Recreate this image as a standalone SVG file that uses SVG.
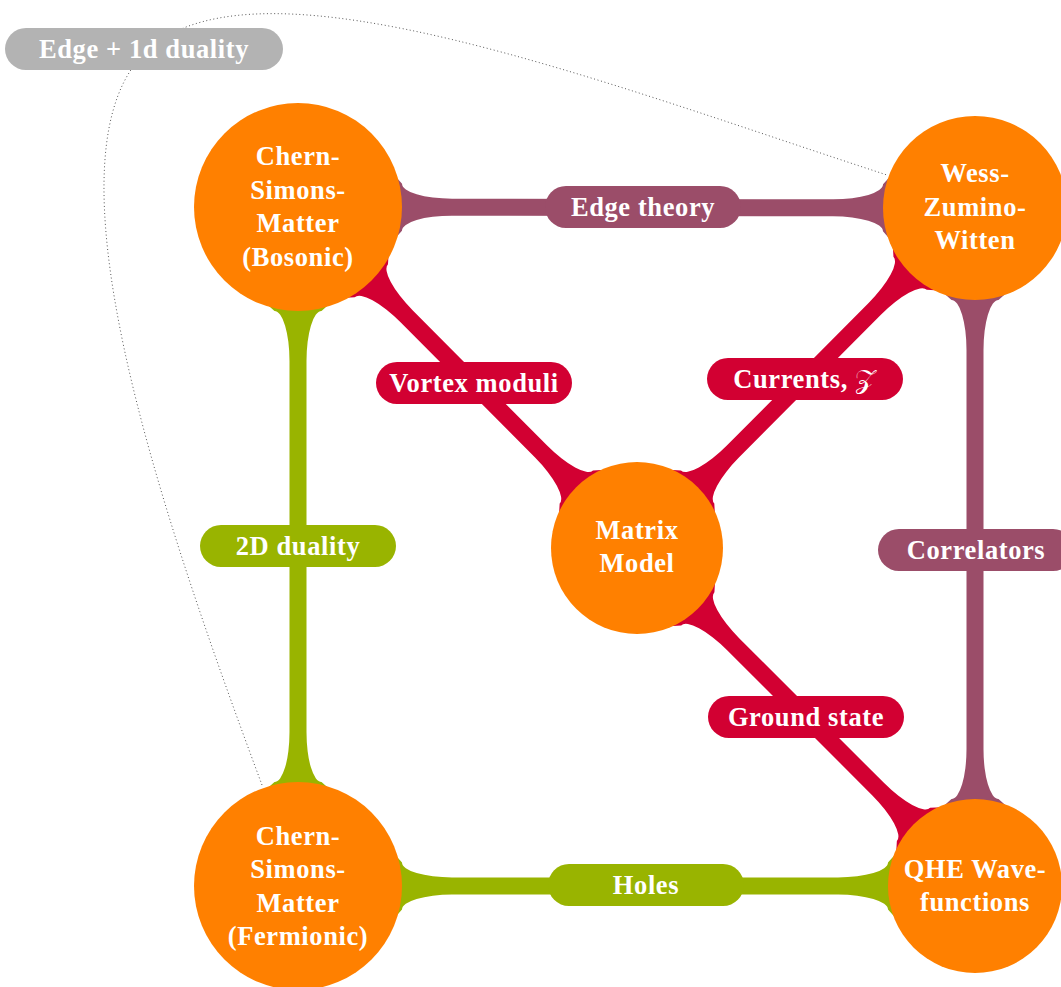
<svg xmlns="http://www.w3.org/2000/svg" width="1061" height="987" viewBox="0 0 1061 987">
<defs>
<style>
.mauve{fill:#9B4D69}
.red{fill:#D20032}
.green{fill:#99B400}
.gray{fill:#B3B3B3}
.node{fill:#FF8000}
.t{font-family:"Liberation Serif","DejaVu Serif",serif;font-weight:bold;font-size:26.5px;letter-spacing:0.6px;fill:#FFFFFF;text-anchor:middle}
.m{font-weight:normal}
.dot{fill:none;stroke:#555555;stroke-width:1;stroke-dasharray:1 2.6}
</style>
</defs>
<rect width="1061" height="987" fill="#FFFFFF"/>
<g id="connectors">
<path class="dot" d="M262,785 C157,503 36,145.5 150,48 C264,-49.5 602,82 887,175"/>
<path class="mauve" transform="translate(298,207) rotate(0.085)" d="M64,-32.5 L96,-32.5 L104,-23.5 A50 15 0 0 0 154,-8.5 L535,-8.5 A50 15 0 0 0 585,-23.5 L593,-32.5 L625,-32.5 L625,32.5 L593,32.5 L585,23.5 A50 15 0 0 0 535,8.5 L154,8.5 A50 15 0 0 0 104,23.5 L96,32.5 L64,32.5 Z"/>
<path class="red" transform="translate(298,207) rotate(45.17)" d="M64,-32.5 L96,-32.5 L104,-23.5 A50 15 0 0 0 154,-8.5 L344.8,-8.5 A50 15 0 0 0 394.8,-23.5 L402.8,-32.5 L434.8,-32.5 L434.8,32.5 L402.8,32.5 L394.8,23.5 A50 15 0 0 0 344.8,8.5 L154,8.5 A50 15 0 0 0 104,23.5 L96,32.5 L64,32.5 Z"/>
<path class="red" transform="translate(637,548) rotate(-45.17)" d="M46,-32.5 L78,-32.5 L86,-23.5 A50 15 0 0 0 136,-8.5 L337.4,-8.5 A50 15 0 0 0 387.4,-23.5 L395.4,-32.5 L427.4,-32.5 L427.4,32.5 L395.4,32.5 L387.4,23.5 A50 15 0 0 0 337.4,8.5 L136,8.5 A50 15 0 0 0 86,23.5 L78,32.5 L46,32.5 Z"/>
<path class="red" transform="translate(637,548) rotate(45)" d="M46,-32.5 L78,-32.5 L86,-23.5 A50 15 0 0 0 136,-8.5 L341,-8.5 A50 15 0 0 0 391,-23.5 L399,-32.5 L431,-32.5 L431,32.5 L399,32.5 L391,23.5 A50 15 0 0 0 341,8.5 L136,8.5 A50 15 0 0 0 86,23.5 L78,32.5 L46,32.5 Z"/>
<path class="green" transform="translate(298,207) rotate(90)" d="M64,-32.5 L96,-32.5 L104,-23.5 A50 15 0 0 0 154,-8.5 L525,-8.5 A50 15 0 0 0 575,-23.5 L583,-32.5 L615,-32.5 L615,32.5 L583,32.5 L575,23.5 A50 15 0 0 0 525,8.5 L154,8.5 A50 15 0 0 0 104,23.5 L96,32.5 L64,32.5 Z"/>
<path class="mauve" transform="translate(975,208) rotate(90)" d="M52,-32.5 L84,-32.5 L92,-23.5 A50 15 0 0 0 142,-8.5 L541,-8.5 A50 15 0 0 0 591,-23.5 L599,-32.5 L631,-32.5 L631,32.5 L599,32.5 L591,23.5 A50 15 0 0 0 541,8.5 L142,8.5 A50 15 0 0 0 92,23.5 L84,32.5 L52,32.5 Z"/>
<path class="green" transform="translate(298,886) rotate(0)" d="M64,-32.5 L96,-32.5 L104,-23.5 A50 15 0 0 0 154,-8.5 L540,-8.5 A50 15 0 0 0 590,-23.5 L598,-32.5 L630,-32.5 L630,32.5 L598,32.5 L590,23.5 A50 15 0 0 0 540,8.5 L154,8.5 A50 15 0 0 0 104,23.5 L96,32.5 L64,32.5 Z"/>
</g>
<g id="node-csm-bosonic">
<circle class="node" cx="298" cy="207" r="104"/>
<text class="t" x="298" y="165">Chern-</text>
<text class="t" x="298" y="198.5">Simons-</text>
<text class="t" x="298" y="232">Matter</text>
<text class="t" x="298" y="265.5">(Bosonic)</text>
</g>
<g id="node-wzw">
<circle class="node" cx="975" cy="208" r="92"/>
<text class="t" x="975" y="182">Wess-</text>
<text class="t" x="975" y="215.5">Zumino-</text>
<text class="t" x="975" y="249">Witten</text>
</g>
<g id="node-matrix">
<circle class="node" cx="637" cy="548" r="86"/>
<text class="t" x="637" y="539">Matrix</text>
<text class="t" x="637" y="572">Model</text>
</g>
<g id="node-csm-fermionic">
<circle class="node" cx="298" cy="886" r="104"/>
<text class="t" x="298" y="844.5">Chern-</text>
<text class="t" x="298" y="878">Simons-</text>
<text class="t" x="298" y="911.5">Matter</text>
<text class="t" x="298" y="945">(Fermionic)</text>
</g>
<g id="node-qhe">
<circle class="node" cx="975" cy="886" r="87"/>
<text class="t" x="975" y="878">QHE Wave-</text>
<text class="t" x="975" y="911">functions</text>
</g>
<g id="edge-labels">
<g id="label-edge-1d">
<rect class="gray" x="5" y="28" width="278" height="42" rx="21"/>
<text class="t" x="144" y="58">Edge + 1d duality</text>
</g>
<g id="label-edge-theory">
<rect class="mauve" x="545" y="186" width="196" height="42" rx="21"/>
<text class="t" x="643" y="216">Edge theory</text>
</g>
<g id="label-vortex">
<rect class="red" x="376" y="362" width="196" height="42" rx="21"/>
<text class="t" x="474" y="392">Vortex moduli</text>
</g>
<g id="label-currents">
<rect class="red" x="707" y="358" width="196" height="42" rx="21"/>
<text class="t" x="805" y="388">Currents, <tspan class="m">𝒵</tspan></text>
</g>
<g id="label-2d">
<rect class="green" x="200" y="525" width="196" height="42" rx="21"/>
<text class="t" x="298" y="555">2D duality</text>
</g>
<g id="label-correlators">
<rect class="mauve" x="878" y="529" width="196" height="42" rx="21"/>
<text class="t" x="976" y="559">Correlators</text>
</g>
<g id="label-ground">
<rect class="red" x="708" y="696" width="196" height="42" rx="21"/>
<text class="t" x="806" y="726">Ground state</text>
</g>
<g id="label-holes">
<rect class="green" x="548" y="864" width="196" height="42" rx="21"/>
<text class="t" x="646" y="894">Holes</text>
</g>
</g>
</svg>
